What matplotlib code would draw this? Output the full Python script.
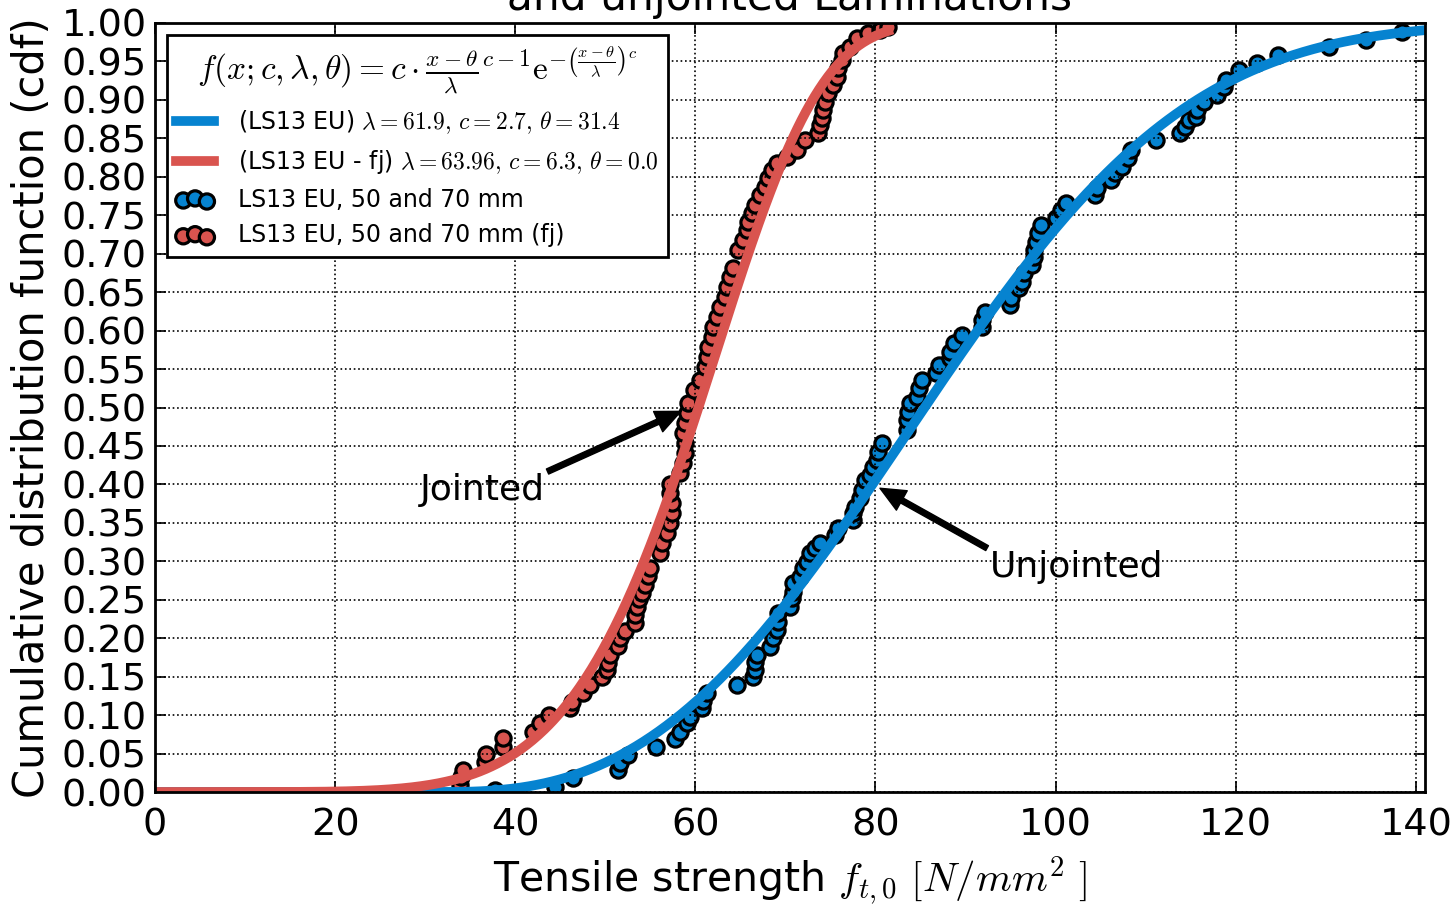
import numpy as np
import matplotlib
matplotlib.use("Agg")
import matplotlib.pyplot as plt

plt.rcParams["mathtext.fontset"] = "cm"
plt.rcParams["font.family"] = "DejaVu Sans"

# fitted Weibull parameters (from the legend)
lam_eu, c_eu, theta_eu = 61.9, 2.7, 31.4
lam_fj, c_fj, theta_fj = 63.96, 6.3, 0.0

eu_x = [37.7, 44.4, 46.4, 51.4, 51.6, 52.5, 55.6, 57.7, 58.3, 59.1, 59.4, 60.7,
        60.8, 61.3, 64.6, 66.4, 66.6, 66.6, 66.8, 68.3, 68.6, 69.1, 69.2, 69.2,
        70.5, 70.7, 70.8, 70.8, 71.6, 72.0, 72.4, 72.7, 73.3, 73.8, 75.5, 75.8,
        77.5, 77.5, 77.7, 78.3, 78.5, 78.8, 79.4, 79.7, 80.2, 80.3, 80.7, 83.5,
        83.5, 83.6, 83.8, 84.6, 84.8, 85.2, 86.7, 87.1, 88.3, 88.3, 88.7, 89.6,
        91.8, 91.8, 92.2, 94.9, 95.1, 95.9, 96.3, 96.5, 97.4, 97.6, 97.6, 97.8,
        98.0, 98.4, 100.0, 100.6, 101.1, 104.4, 104.6, 106.2, 106.6, 107.4, 108.0,
        108.4, 111.1, 113.8, 114.4, 114.8, 115.6, 115.7, 116.5, 117.9, 118.7,
        118.9, 120.4, 122.4, 124.7, 130.4, 134.5, 138.5]
eu_y = [0.003, 0.007, 0.018, 0.029, 0.038, 0.048, 0.059, 0.069, 0.078, 0.090,
        0.098, 0.109, 0.118, 0.129, 0.139, 0.150, 0.159, 0.169, 0.178, 0.189,
        0.200, 0.211, 0.221, 0.233, 0.241, 0.252, 0.260, 0.272, 0.280, 0.291,
        0.299, 0.311, 0.317, 0.324, 0.334, 0.343, 0.354, 0.363, 0.371, 0.382,
        0.393, 0.406, 0.412, 0.423, 0.432, 0.442, 0.454, 0.471, 0.484, 0.494,
        0.506, 0.514, 0.525, 0.536, 0.545, 0.555, 0.564, 0.572, 0.584, 0.594,
        0.605, 0.614, 0.624, 0.633, 0.642, 0.655, 0.663, 0.675, 0.685, 0.696,
        0.705, 0.715, 0.727, 0.737, 0.746, 0.757, 0.766, 0.776, 0.785, 0.796,
        0.805, 0.813, 0.824, 0.835, 0.848, 0.857, 0.865, 0.874, 0.878, 0.887,
        0.897, 0.906, 0.917, 0.926, 0.939, 0.948, 0.958, 0.969, 0.978, 0.988]

fj_x = [33.9, 34.0, 34.2, 36.6, 36.7, 38.6, 38.6, 42.0, 42.7, 43.8, 46.1, 46.3,
        47.5, 48.3, 49.6, 50.2, 50.3, 50.5, 51.4, 51.6, 52.2, 53.3, 53.3, 53.5,
        53.7, 54.1, 54.4, 54.7, 55.0, 56.1, 56.3, 56.8, 57.2, 57.4, 57.4, 57.2,
        57.2, 58.3, 58.6, 58.8, 58.8, 58.6, 58.8, 59.1, 59.2, 59.8, 60.5, 61.1,
        61.3, 61.4, 61.8, 62.0, 62.4, 62.7, 63.3, 63.5, 63.8, 64.2, 64.7, 65.3,
        65.7, 65.8, 66.3, 66.6, 67.2, 67.7, 68.1, 68.5, 69.1, 70.2, 71.3, 72.2,
        73.6, 73.8, 74.1, 74.2, 74.4, 74.7, 75.3, 75.7, 75.8, 76.3, 76.4, 77.2,
        78.0, 79.2, 80.5, 81.4]
fj_y = [0.009, 0.019, 0.029, 0.039, 0.049, 0.059, 0.070, 0.078, 0.090, 0.100,
        0.109, 0.117, 0.129, 0.139, 0.150, 0.159, 0.168, 0.178, 0.190, 0.200,
        0.209, 0.220, 0.230, 0.240, 0.251, 0.259, 0.269, 0.281, 0.291, 0.311,
        0.324, 0.337, 0.350, 0.363, 0.376, 0.389, 0.400, 0.415, 0.428, 0.441,
        0.454, 0.467, 0.480, 0.493, 0.506, 0.523, 0.536, 0.553, 0.566, 0.579,
        0.592, 0.605, 0.618, 0.631, 0.644, 0.657, 0.670, 0.681, 0.705, 0.718,
        0.731, 0.741, 0.753, 0.763, 0.776, 0.787, 0.798, 0.809, 0.818, 0.826,
        0.835, 0.848, 0.857, 0.867, 0.876, 0.887, 0.897, 0.909, 0.919, 0.930,
        0.941, 0.952, 0.961, 0.969, 0.980, 0.987, 0.991, 0.995]

blue = "#0683d0"
red = "#d9544f"


def weibull_cdf(x, lam, c, theta):
    z = np.clip((x - theta) / lam, 0, None)
    return 1 - np.exp(-z ** c)


x_eu = np.linspace(0, 141, 500)
x_fj = np.linspace(0, max(fj_x), 500)

fig = plt.figure(figsize=(14.51, 9.09), dpi=100)
ax = fig.add_axes([0.1068, 0.1287, 0.8752, 0.8460])

ax.scatter(eu_x, eu_y, s=120, c=blue, edgecolors="black", linewidths=2.3,
           label="LS13 EU, 50 and 70 mm")
ax.scatter(fj_x, fj_y, s=120, c=red, edgecolors="black", linewidths=2.3,
           label="LS13 EU, 50 and 70 mm (fj)")
l1, = ax.plot(x_eu, weibull_cdf(x_eu, lam_eu, c_eu, theta_eu), color=blue, lw=7,
              label=r"(LS13 EU) $\lambda=61.9,\,c=2.7,\,\theta=31.4$")
l2, = ax.plot(x_fj, weibull_cdf(x_fj, lam_fj, c_fj, theta_fj), color=red, lw=7,
              label=r"(LS13 EU - fj) $\lambda=63.96,\,c=6.3,\,\theta=0.0$")

ax.set_xlim(0, 141)
ax.set_ylim(0, 1)
ax.set_xticks(np.arange(0, 141, 20))
ax.set_yticks(np.arange(0, 1.001, 0.05))
ax.yaxis.set_major_formatter(matplotlib.ticker.FormatStrFormatter("%.2f"))
ax.tick_params(direction="in", top=True, right=True, labelsize=27.5, length=8, width=1.2)
ax.tick_params(axis="x", pad=11)
ax.tick_params(axis="y", pad=6)
ax.grid(True, color="black", linestyle=":", linewidth=1.2)
for sp in ax.spines.values():
    sp.set_linewidth(2)

ax.set_xlabel(r"Tensile strength $f_{t,0}\ [N/mm^2\ ]$", fontsize=29.5, labelpad=8)
ax.set_ylabel("Cumulative distribution function (cdf)", fontsize=30, labelpad=6)
ax.set_title("Weibull distribution of jointed\nand unjointed Laminations", fontsize=30.5, pad=9)

ax.annotate("Jointed", xy=(58.4, 0.495), xytext=(29.4, 0.38), fontsize=26,
            arrowprops=dict(facecolor="black", width=4, headwidth=16, headlength=18, shrink=0.0))
ax.annotate("Unjointed", xy=(80.5, 0.395), xytext=(92.7, 0.28), fontsize=26,
            arrowprops=dict(facecolor="black", width=4, headwidth=16, headlength=18, shrink=0.0))

handles, labels = ax.get_legend_handles_labels()
order = [labels.index(l1.get_label()), labels.index(l2.get_label()), 0, 1]
leg = ax.legend([handles[i] for i in order], [labels[i] for i in order],
                loc="upper left", fontsize=17, scatterpoints=3, handlelength=1.6,
                handletextpad=1.0, fancybox=False, framealpha=1,
                title=r"$f(x;c,\lambda,\theta)=c\cdot\frac{x-\theta}{\lambda}^{c-1}\mathrm{e}^{-\left(\frac{x-\theta}{\lambda}\right)^c}$",
                title_fontsize=24)
leg.get_frame().set_edgecolor("black")
leg.get_frame().set_linewidth(2)

fig.savefig("out.png", dpi=100)
